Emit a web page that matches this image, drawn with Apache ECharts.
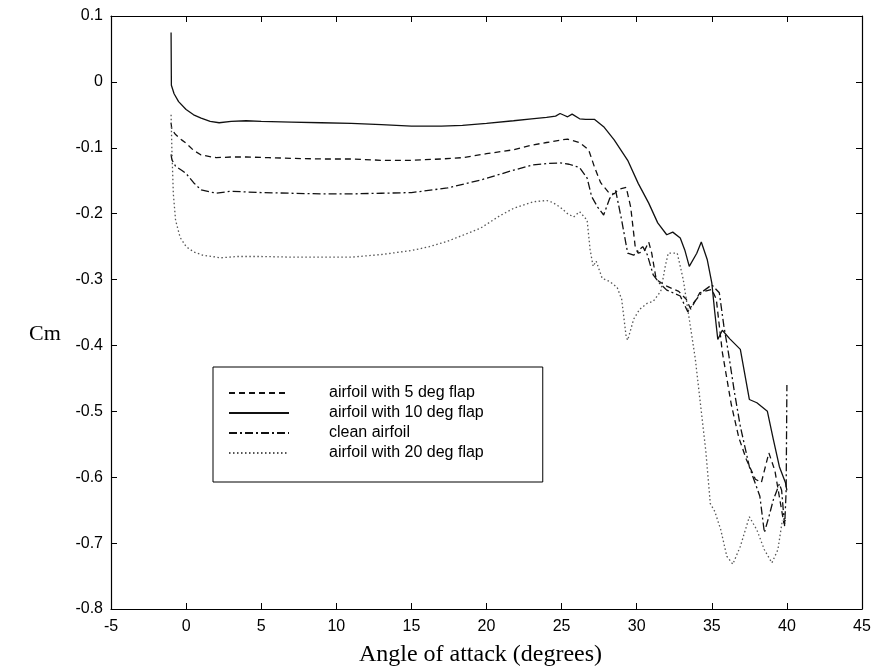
<!DOCTYPE html>
<html>
<head>
<meta charset="utf-8">
<script src="https://cdn.jsdelivr.net/npm/echarts@6/dist/echarts.min.js"></script>
<style>html,body{margin:0;padding:0;background:#fff}#c{width:874px;height:670px}</style>
</head>
<body>
<div id="c"></div>
<script>
// Series names (legend order)
const seriesNames = ['airfoil with 5 deg flap', 'airfoil with 10 deg flap', 'clean airfoil', 'airfoil with 20 deg flap'];

// X ticks and Y ticks
const xTicks = [-5, 0, 5, 10, 15, 20, 25, 30, 35, 40, 45];
const yTicks = [0.1, 0, -0.1, -0.2, -0.3, -0.4, -0.5, -0.6, -0.7, -0.8];

// [angle of attack (deg), Cm]
const flap5 = [[-1,-0.062],[-0.95,-0.072],[-0.7,-0.08],[-0.3,-0.088],[0,-0.093],[0.5,-0.104],[1,-0.111],[2,-0.115],[3,-0.114],[4,-0.114],[5.5,-0.115],[7,-0.116],[9,-0.117],[11,-0.117],[13,-0.119],[15,-0.119],[17,-0.117],[18.4,-0.115],[20,-0.109],[21.8,-0.103],[23,-0.096],[24,-0.092],[25,-0.088],[25.4,-0.087],[26.2,-0.092],[26.8,-0.103],[27.2,-0.13],[27.6,-0.153],[28.1,-0.167],[28.5,-0.17],[28.8,-0.163],[29.3,-0.16],[29.6,-0.19],[29.9,-0.25],[30.1,-0.26],[30.5,-0.257],[30.8,-0.243],[31.0,-0.26],[31.3,-0.3],[32,-0.31],[32.8,-0.318],[33.3,-0.33],[33.6,-0.345],[34.2,-0.32],[35,-0.315],[35.3,-0.33],[35.7,-0.41],[36.3,-0.49],[36.8,-0.54],[37.3,-0.573],[37.9,-0.603],[38.3,-0.608],[38.8,-0.563],[39.2,-0.59],[39.5,-0.63],[39.8,-0.67],[40,-0.66]];

const flap10 = [[-1,0.075],[-0.98,-0.005],[-0.8,-0.018],[-0.5,-0.03],[0,-0.042],[0.5,-0.05],[1,-0.055],[1.6,-0.06],[2.2,-0.062],[3,-0.06],[4,-0.059],[5,-0.06],[7,-0.061],[9,-0.062],[11,-0.063],[13,-0.065],[15,-0.067],[17,-0.067],[18.4,-0.066],[20,-0.063],[21.8,-0.059],[23,-0.056],[24,-0.054],[24.6,-0.052],[24.9,-0.048],[25.2,-0.051],[25.4,-0.053],[25.7,-0.049],[26.2,-0.056],[26.6,-0.057],[27.2,-0.057],[27.8,-0.068],[28.5,-0.088],[29.4,-0.119],[30.1,-0.154],[30.8,-0.184],[31.4,-0.214],[32,-0.232],[32.4,-0.228],[32.9,-0.237],[33.2,-0.255],[33.5,-0.28],[34,-0.26],[34.3,-0.243],[34.7,-0.27],[35,-0.305],[35.2,-0.35],[35.4,-0.391],[35.7,-0.377],[36.2,-0.39],[36.9,-0.406],[37.5,-0.482],[38,-0.487],[38.7,-0.5],[39.1,-0.543],[39.5,-0.584],[39.9,-0.608],[40,-0.62]];

const clean = [[-1,-0.11],[-0.95,-0.118],[-0.7,-0.128],[-0.3,-0.134],[0,-0.139],[0.5,-0.153],[1,-0.164],[2,-0.169],[3,-0.166],[5,-0.168],[7,-0.169],[9,-0.17],[11,-0.17],[13,-0.169],[15,-0.168],[17.4,-0.161],[19.6,-0.149],[21.8,-0.134],[23.1,-0.126],[24,-0.124],[24.9,-0.123],[25.5,-0.125],[26.2,-0.13],[26.7,-0.146],[27.0,-0.174],[27.4,-0.19],[27.8,-0.202],[28.2,-0.177],[28.6,-0.165],[29.0,-0.21],[29.4,-0.26],[29.8,-0.263],[30.4,-0.25],[30.7,-0.262],[31.1,-0.293],[31.5,-0.305],[32,-0.316],[32.9,-0.325],[33.4,-0.349],[33.8,-0.335],[34.4,-0.318],[35,-0.308],[35.5,-0.32],[35.8,-0.37],[36.1,-0.41],[36.5,-0.47],[36.9,-0.523],[37.5,-0.584],[38.2,-0.629],[38.5,-0.684],[38.8,-0.66],[39.1,-0.634],[39.5,-0.61],[39.65,-0.62],[39.85,-0.675],[39.95,-0.62],[40,-0.46]];

const flap20 = [[-1,-0.05],[-0.95,-0.1],[-0.85,-0.17],[-0.7,-0.21],[-0.4,-0.236],[0,-0.25],[0.5,-0.258],[1.1,-0.263],[2.3,-0.267],[3.4,-0.265],[5,-0.265],[7,-0.266],[9,-0.266],[11,-0.266],[13,-0.262],[15,-0.256],[16.2,-0.25],[17.4,-0.242],[19.6,-0.222],[20.9,-0.203],[21.8,-0.192],[23.1,-0.182],[24,-0.18],[24.4,-0.183],[24.9,-0.19],[25.4,-0.2],[25.8,-0.205],[26.2,-0.197],[26.7,-0.21],[26.9,-0.255],[27.1,-0.28],[27.3,-0.272],[27.7,-0.298],[28.2,-0.303],[28.7,-0.312],[29.0,-0.33],[29.3,-0.387],[29.4,-0.392],[29.8,-0.36],[30.2,-0.345],[30.7,-0.336],[31.1,-0.333],[31.6,-0.318],[31.9,-0.28],[32.1,-0.26],[32.7,-0.26],[33.1,-0.3],[33.4,-0.345],[33.9,-0.42],[34.3,-0.5],[34.6,-0.56],[34.9,-0.64],[35.2,-0.652],[35.6,-0.68],[36.0,-0.72],[36.4,-0.732],[36.9,-0.705],[37.5,-0.66],[38.0,-0.68],[38.5,-0.71],[39.0,-0.73],[39.4,-0.71],[39.7,-0.665]];

const chart = echarts.init(document.getElementById('c'), null, {renderer: 'canvas'});
const tickFont = {color: '#000', fontFamily: 'Liberation Sans, Arial, sans-serif', fontSize: 16};
const axisCommon = {
  axisLine: {show: true, onZero: false, lineStyle: {color: '#000', width: 1.2}},
  axisTick: {show: true, inside: true, length: 6, lineStyle: {color: '#000', width: 1}},
  splitLine: {show: false}
};
const fmtY = v => (Math.abs(v) < 1e-9 ? '0' : (+v.toFixed(1)).toString());

function mk(name, data, type, color) {
  return {
    name, type: 'line', data, symbol: 'none', smooth: false, animation: false,
    lineStyle: {color: color, width: 1.3, type: type},
    itemStyle: {color: color}
  };
}

chart.setOption({
  animation: false,
  backgroundColor: '#fff',
  grid: {left: 111, right: 12, top: 16, bottom: 61, containLabel: false, outerBoundsMode: 'none'},
  xAxis: [
    Object.assign({}, axisCommon, {
      type: 'value', min: xTicks[0], max: xTicks[xTicks.length - 1], interval: 5, position: 'bottom',
      axisLabel: Object.assign({margin: 10}, tickFont),
      name: 'Angle of attack (degrees)', nameLocation: 'middle', nameGap: 34,
      nameTextStyle: {color: '#000', fontFamily: 'Liberation Serif, Times New Roman, serif', fontSize: 24, padding: [0, 12, 0, 0]}
    }),
    Object.assign({}, axisCommon, {
      type: 'value', min: xTicks[0], max: xTicks[xTicks.length - 1], interval: 5, position: 'top',
      axisLabel: {show: false}
    })
  ],
  yAxis: [
    Object.assign({}, axisCommon, {
      type: 'value', min: yTicks[yTicks.length - 1], max: yTicks[0], interval: 0.1, position: 'left',
      axisLabel: Object.assign({margin: 8, formatter: fmtY}, tickFont)
    }),
    Object.assign({}, axisCommon, {
      type: 'value', min: yTicks[yTicks.length - 1], max: yTicks[0], interval: 0.1, position: 'right',
      axisLabel: {show: false}
    })
  ],
  graphic: [{
    type: 'text', left: 29, top: 323,
    style: {text: 'Cm', fill: '#000', font: '22px "Liberation Serif", "Times New Roman", serif'}
  }],
  legend: {
    data: seriesNames,
    orient: 'vertical',
    left: 213, top: 367,
    padding: [18, 59, 21, 15],
    borderColor: '#000', borderWidth: 1, borderRadius: 0,
    backgroundColor: '#fff',
    itemWidth: 60, itemHeight: 14, itemGap: 4,
    itemStyle: {opacity: 0, borderWidth: 0},
    selectedMode: false,
    textStyle: {color: '#000', fontFamily: 'Liberation Sans, Arial, sans-serif', fontSize: 16, lineHeight: 16, padding: [0, 0, 0, 35]}
  },
  series: [
    mk(seriesNames[0], flap5, [6, 4], '#111'),
    mk(seriesNames[1], flap10, 'solid', '#111'),
    mk(seriesNames[2], clean, [8, 3, 2, 3], '#111'),
    mk(seriesNames[3], flap20, [1.5, 2.5], '#555')
  ]
});
</script>
</body>
</html>
